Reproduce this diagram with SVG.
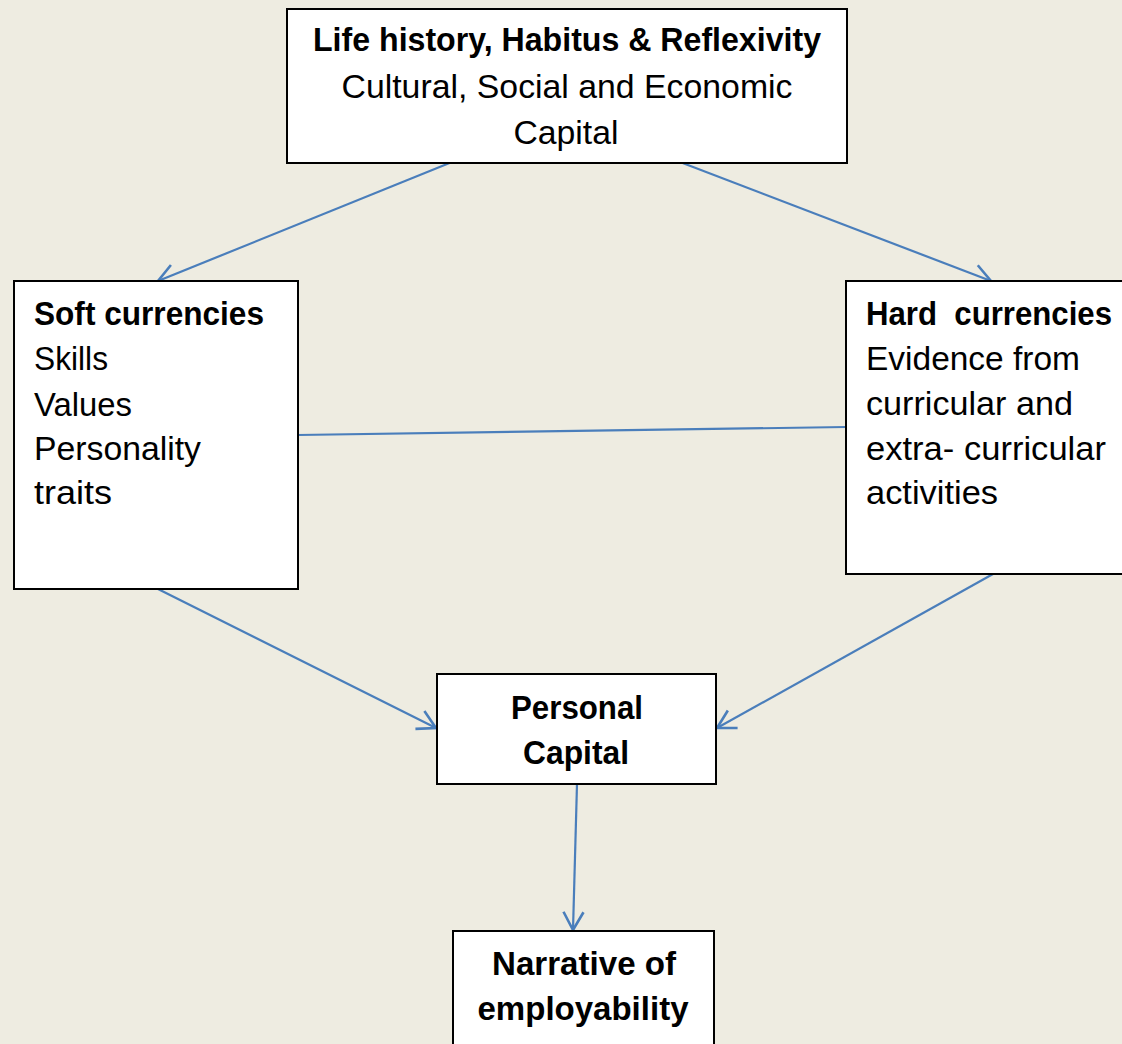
<svg xmlns="http://www.w3.org/2000/svg" width="1122" height="1044" viewBox="0 0 1122 1044">
<style>
.box{fill:#FFFFFF;stroke:#000000;stroke-width:2}
.t{font-family:"Liberation Sans",Arial,sans-serif;font-size:33px;fill:#000000}
.b{font-weight:bold}
.c{text-anchor:middle}
.conn{stroke:#4A7EBB;stroke-width:2.2;fill:none}
</style>
<defs>
<marker id="arr" viewBox="-22 -13 24 26" refX="0" refY="0" markerWidth="24" markerHeight="26" markerUnits="userSpaceOnUse" orient="auto">
<path d="M-18,-10 L0,0 L-18,10" fill="none" stroke="#4A7EBB" stroke-width="2.6"/>
</marker>
</defs>
<rect x="0" y="0" width="1122" height="1044" fill="#EEECE1"/>
<g id="connectors">
<line class="conn" x1="452" y1="162" x2="158" y2="281" marker-end="url(#arr)"/>
<line class="conn" x1="680" y1="162" x2="991" y2="281" marker-end="url(#arr)"/>
<line class="conn" x1="298" y1="435" x2="846" y2="427"/>
<line class="conn" x1="158" y1="589" x2="436" y2="728" marker-end="url(#arr)"/>
<line class="conn" x1="993" y1="574" x2="717" y2="728" marker-end="url(#arr)"/>
<line class="conn" x1="577" y1="784" x2="573" y2="930" marker-end="url(#arr)"/>
</g>
<g id="node-top">
<rect class="box" x="287" y="9" width="560" height="154"/>
<text class="t b c" x="567" y="51" textLength="508" lengthAdjust="spacingAndGlyphs">Life history, Habitus &amp; Reflexivity</text>
<text class="t c" x="567" y="98" textLength="451" lengthAdjust="spacingAndGlyphs">Cultural, Social and Economic</text>
<text class="t c" x="566" y="144" textLength="105" lengthAdjust="spacingAndGlyphs">Capital</text>
</g>
<g id="node-soft">
<rect class="box" x="14" y="281" width="284" height="308"/>
<text class="t b" x="34" y="325" textLength="230" lengthAdjust="spacingAndGlyphs">Soft currencies</text>
<text class="t" x="34" y="370" textLength="74" lengthAdjust="spacingAndGlyphs">Skills</text>
<text class="t" x="34" y="416" textLength="98" lengthAdjust="spacingAndGlyphs">Values</text>
<text class="t" x="34" y="460" textLength="167" lengthAdjust="spacingAndGlyphs">Personality</text>
<text class="t" x="34" y="504" textLength="78" lengthAdjust="spacingAndGlyphs">traits</text>
</g>
<g id="node-hard">
<rect class="box" x="846" y="281" width="290" height="293"/>
<text class="t b" x="866" y="325" textLength="246" lengthAdjust="spacingAndGlyphs" xml:space="preserve">Hard  currencies</text>
<text class="t" x="866" y="370" textLength="214" lengthAdjust="spacingAndGlyphs">Evidence from</text>
<text class="t" x="866" y="415" textLength="207" lengthAdjust="spacingAndGlyphs">curricular and</text>
<text class="t" x="866" y="460" textLength="240" lengthAdjust="spacingAndGlyphs">extra- curricular</text>
<text class="t" x="866" y="504" textLength="132" lengthAdjust="spacingAndGlyphs">activities</text>
</g>
<g id="node-personal">
<rect class="box" x="437" y="674" width="279" height="110"/>
<text class="t b c" x="577" y="719" textLength="132" lengthAdjust="spacingAndGlyphs">Personal</text>
<text class="t b c" x="576" y="764" textLength="106" lengthAdjust="spacingAndGlyphs">Capital</text>
</g>
<g id="node-narrative">
<rect class="box" x="453" y="931" width="261" height="130"/>
<text class="t b c" x="584" y="975" textLength="184" lengthAdjust="spacingAndGlyphs">Narrative of</text>
<text class="t b c" x="583" y="1020" textLength="211" lengthAdjust="spacingAndGlyphs">employability</text>
</g>
</svg>
